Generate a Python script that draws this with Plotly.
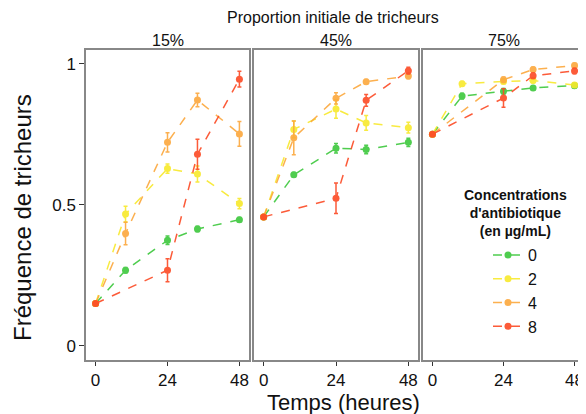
import plotly.graph_objects as go

times = [0, 10, 24, 34, 48]
proportions = ['15%', '45%', '75%']
concentrations = ['0', '2', '4', '8']
colors = ['#3cc83c', '#f8e92c', '#fca83c', '#fc4a24']

# mean frequency of cheaters, None = not measured
freq_15 = {
    '0': [0.15, 0.268, 0.374, 0.414, 0.447],
    '2': [0.15, 0.467, 0.628, 0.609, 0.504],
    '4': [0.15, 0.398, 0.721, 0.871, 0.751],
    '8': [0.15, None, 0.268, 0.679, 0.945],
}
freq_45 = {
    '0': [0.457, 0.606, 0.700, 0.696, 0.721],
    '2': [0.457, 0.767, 0.839, 0.790, 0.773],
    '4': [0.457, 0.737, 0.877, 0.936, 0.956],
    '8': [0.457, None, 0.523, 0.870, 0.975],
}
freq_75 = {
    '0': [0.75, 0.885, 0.902, 0.914, 0.922],
    '2': [0.75, 0.929, 0.937, 0.940, 0.924],
    '4': [0.75, None, 0.943, 0.979, 0.993],
    '8': [0.75, None, 0.878, 0.957, 0.974],
}
# error bar half-lengths
err_15 = {
    '0': [0.0, 0.01, 0.015, 0.01, 0.008],
    '2': [0.0, 0.028, 0.016, 0.028, 0.018],
    '4': [0.0, 0.04, 0.034, 0.024, 0.044],
    '8': [0.0, 0.0, 0.041, 0.053, 0.028],
}
err_45 = {
    '0': [0.0, 0.008, 0.017, 0.015, 0.015],
    '2': [0.0, 0.03, 0.033, 0.026, 0.019],
    '4': [0.0, 0.06, 0.02, 0.008, 0.01],
    '8': [0.0, 0.0, 0.054, 0.021, 0.012],
}
err_75 = {
    '0': [0.0, 0.01, 0.01, 0.008, 0.008],
    '2': [0.0, 0.008, 0.008, 0.008, 0.008],
    '4': [0.0, 0.0, 0.01, 0.008, 0.008],
    '8': [0.0, 0.0, 0.033, 0.01, 0.01],
}
panels = [(freq_15, err_15), (freq_45, err_45), (freq_75, err_75)]

# the page body adds an 8px margin, so the figure is a bit smaller and shifted
OFF = 8
W, H = 586 - OFF, 414 - OFF
font = 'Liberation Sans, Arial, sans-serif'


def px(x):
    return (x - OFF) / W


def py(y):
    return 1 - (y - OFF) / H


x_dom = [(86, 249), (254, 418), (423, 584)]
y_dom = [py(360), py(49.5)]

fig = go.Figure()

for p, (freq, err) in enumerate(panels):
    xa = 'x' if p == 0 else 'x%d' % (p + 1)
    ya = 'y' if p == 0 else 'y%d' % (p + 1)
    for c, col in zip(concentrations, colors):
        xs = [t for t, v in zip(times, freq[c]) if v is not None]
        ys = [v for v in freq[c] if v is not None]
        es = [e for e, v in zip(err[c], freq[c]) if v is not None]
        fig.add_trace(go.Scatter(
            x=xs, y=ys, xaxis=xa, yaxis=ya, mode='lines+markers',
            name=c, legendgroup=c, showlegend=(p == 0),
            line=dict(color=col, width=1.5, dash='dash'),
            marker=dict(color=col, size=7),
            error_y=dict(type='data', array=es, color=col, thickness=1.5, width=2),
            opacity=0.9,
        ))

layout = dict(
    width=W, height=H,
    margin=dict(l=0, r=0, t=0, b=0),
    plot_bgcolor='white', paper_bgcolor='white',
    font=dict(family=font, color='#111'),
    legend=dict(
        x=px(488), y=py(238), xanchor='left', yanchor='top',
        bgcolor='rgba(0,0,0,0)',
        font=dict(size=16),
        itemwidth=30,
        tracegroupgap=0,
    ),
)

for p in range(3):
    sx = '' if p == 0 else str(p + 1)
    layout['xaxis' + sx] = dict(
        domain=[px(x_dom[p][0]), px(x_dom[p][1])], anchor='y' + sx,
        range=[-3.2, 51.2], tickvals=[0, 24, 48], ticks='outside', ticklen=4,
        tickcolor='#333', tickwidth=1.2,
        showline=True, mirror=True, linecolor='#888', linewidth=1.5,
        showgrid=False, zeroline=False, tickfont=dict(size=17),
    )
    layout['yaxis' + sx] = dict(
        domain=y_dom, anchor='x' + sx, range=[-0.05, 1.05],
        tickvals=[0, 0.5, 1], ticktext=['0', '0.5', '1'],
        showticklabels=(p == 0), ticks='outside' if p == 0 else '', ticklen=5,
        tickcolor='#333', tickwidth=1.2,
        showline=True, mirror=True, linecolor='#888', linewidth=1.5,
        showgrid=False, zeroline=False, tickfont=dict(size=17),
    )

fig.update_layout(**layout)

annots = [
    dict(text='Proportion initiale de tricheurs', x=333, y=17, size=16, angle=0),
    dict(text='Temps (heures)', x=343, y=402, size=22, angle=0),
    dict(text='Fréquence de tricheurs', x=22, y=218, size=24, angle=-90),
    dict(text="<b>Concentrations<br>d'antibiotique<br>(en µg/mL)</b>", x=515, y=213, size=14, angle=0),
]
for p, lab in enumerate(proportions):
    annots.append(dict(text=lab, x=(x_dom[p][0] + x_dom[p][1]) / 2, y=40, size=16, angle=0))

for a in annots:
    fig.add_annotation(text=a['text'], x=px(a['x']), y=py(a['y']), xref='paper', yref='paper',
                       xanchor='center', yanchor='middle', showarrow=False, align='center',
                       textangle=a['angle'], font=dict(size=a['size'], family=font, color='#111'))

fig.write_html('out.html')
